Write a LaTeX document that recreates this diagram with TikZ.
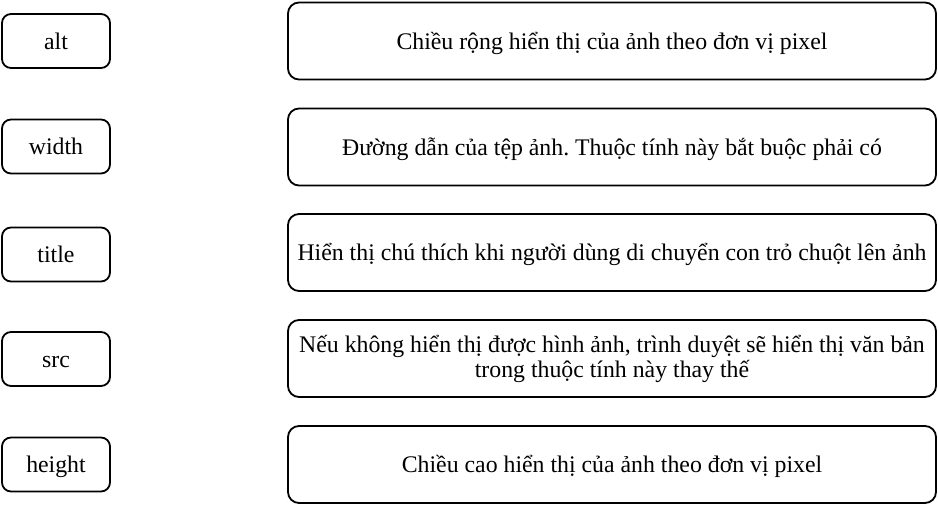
\documentclass[tikz,border=0pt]{standalone}
\usepackage{fontspec}
\setmainfont{Liberation Serif}
\frenchspacing
\begin{document}
\begin{tikzpicture}[x=1pt,y=-1pt,
  keybox/.style={draw,line width=1.8pt,rounded corners=9pt,minimum width=108pt,minimum height=54pt,inner sep=0pt,text height=16pt,text depth=0pt,font=\fontsize{23.8}{27}\selectfont},
  descbox/.style={draw,line width=1.8pt,rounded corners=11pt,minimum width=648pt,minimum height=77pt,inner sep=0pt,align=center,font=\fontsize{23.8}{25}\selectfont},
  oneline/.style={text height=16pt,text depth=0pt}]
\useasboundingbox (0,0) rectangle (938,506);
\node[keybox] (k1) at (56,41) {alt};
\node[keybox] (k2) at (56,146.5) {width};
\node[keybox] (k3) at (56,254.5) {title};
\node[keybox] (k4) at (56,359) {src};
\node[keybox] (k5) at (56,464.5) {height};
\node[descbox,oneline] (d1) at (612,41) {Chiều rộng hiển thị của ảnh theo đơn vị pixel};
\node[descbox,oneline] (d2) at (612,147) {Đường dẫn của tệp ảnh. Thuộc tính này bắt buộc phải có};
\node[descbox,oneline] (d3) at (612,252.5) {Hiển thị chú thích khi người dùng di chuyển con trỏ chuột lên ảnh};
\node[descbox] (d4) at (612,358.5) {Nếu không hiển thị được hình ảnh, trình duyệt sẽ hiển thị văn bản\\trong thuộc tính này thay thế};
\node[descbox,oneline] (d5) at (612,464.5) {Chiều cao hiển thị của ảnh theo đơn vị pixel};
\end{tikzpicture}
\end{document}
